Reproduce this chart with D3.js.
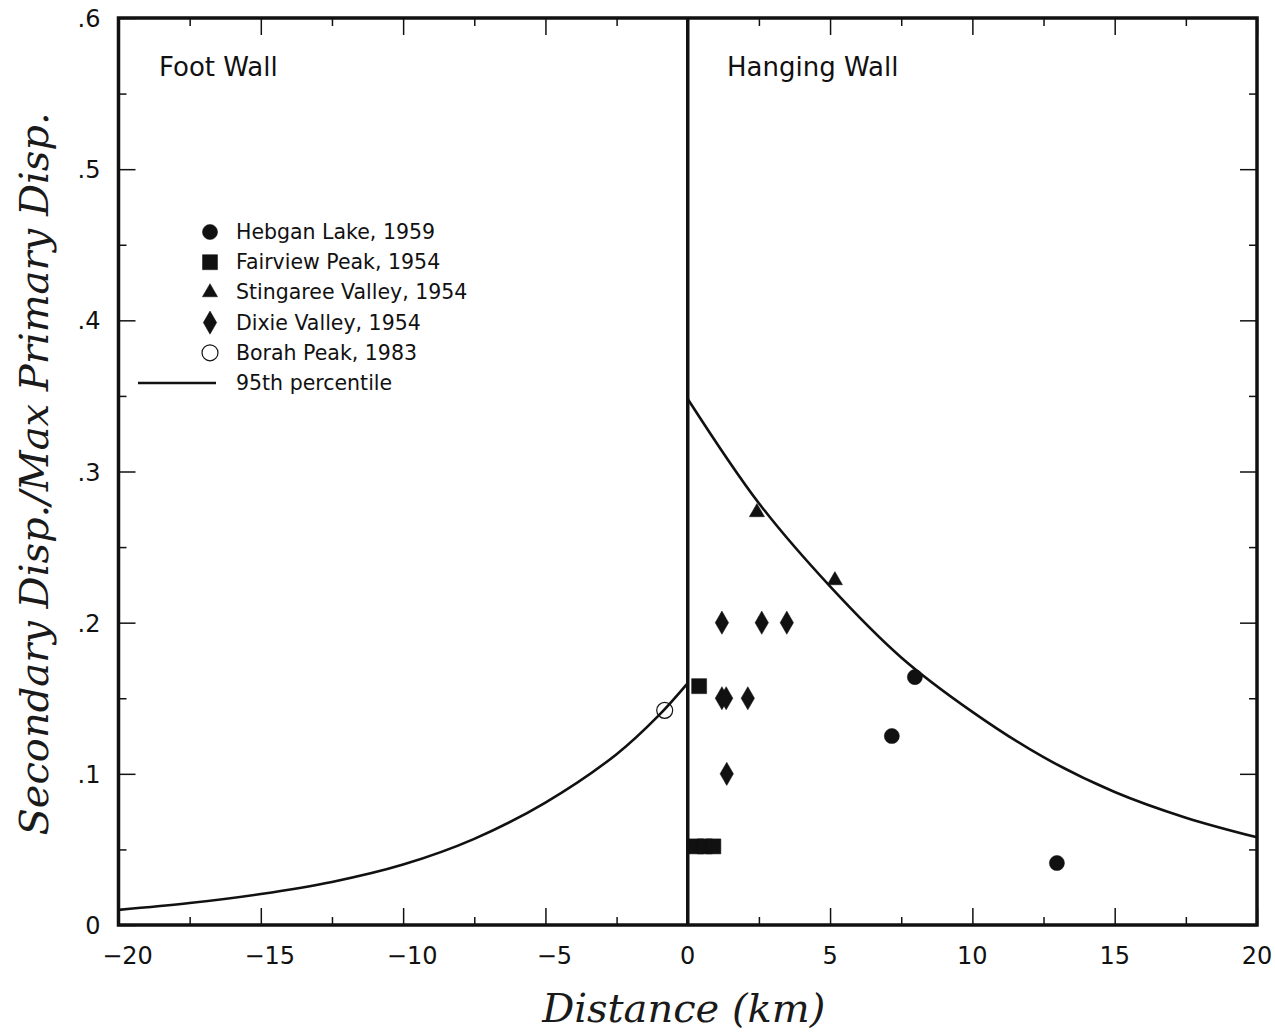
<!DOCTYPE html>
<html>
<head>
<meta charset="utf-8">
<script src="https://cdn.jsdelivr.net/npm/d3@7"></script>
<style>
  body { margin: 0; background: #fff; }
  text { fill: #111; }
  .tick-label { font-family: "DejaVu Sans", sans-serif; font-size: 24px; }
  .legend text { font-family: "DejaVu Sans", sans-serif; font-size: 20.5px; }
  .wall { font-family: "DejaVu Sans", sans-serif; font-size: 26px; }
  .title { font-family: "DejaVu Serif", serif; font-style: italic; font-size: 40px; fill: #1a1a1a; }
</style>
</head>
<body>
<script>
// data
var hebganX = [7.98, 7.17, 12.97];
var hebganY = [0.164, 0.125, 0.041];
var fairviewX = [0.4, 0.3, 0.6, 0.9];
var fairviewY = [0.158, 0.052, 0.052, 0.052];
var stingareeX = [2.43, 5.17];
var stingareeY = [0.273, 0.228];
var dixieX = [1.2, 2.6, 3.48, 1.2, 1.35, 2.11, 1.37];
var dixieY = [0.2, 0.2, 0.2, 0.15, 0.15, 0.15, 0.1];
var borahX = [-0.81];
var borahY = [0.142];

// 95th percentile curves
var footX = [-20, -17.5, -15, -12.5, -10, -7.5, -5, -2.5, -1, 0];
var footY = [0.010, 0.0145, 0.0205, 0.0285, 0.040, 0.057, 0.081, 0.113, 0.139, 0.160];
var hangX = [0, 2.5, 5, 7.5, 10, 12.5, 15, 17.5, 20];
var hangY = [0.348, 0.279, 0.224, 0.177, 0.141, 0.111, 0.088, 0.071, 0.058];

var xTicks = [-20, -15, -10, -5, 0, 5, 10, 15, 20];
var xMinor = [-17.5, -12.5, -7.5, -2.5, 2.5, 7.5, 12.5, 17.5];
var yTicks = [0, 0.1, 0.2, 0.3, 0.4, 0.5, 0.6];
var yTickLabels = ["0", ".1", ".2", ".3", ".4", ".5", ".6"];
var yMinor = [0.05, 0.15, 0.25, 0.35, 0.45, 0.55];

var legendNames = ["Hebgan Lake, 1959", "Fairview Peak, 1954", "Stingaree Valley, 1954",
                   "Dixie Valley, 1954", "Borah Peak, 1983", "95th percentile"];

var margin = {top: 18, right: 18, bottom: 107, left: 118.5},
    width = 1275 - margin.left - margin.right,
    height = 1032 - margin.top - margin.bottom;

var svg = d3.select("body").append("svg")
    .attr("width", 1275)
    .attr("height", 1032);

var g = svg.append("g")
    .attr("transform", "translate(" + margin.left + "," + margin.top + ")");

var x = d3.scaleLinear().domain([-20, 20]).range([0, width]);
var y = d3.scaleLinear().domain([0, 0.6]).range([height, 0]);

function zip(xs, ys) {
  return xs.map(function(v, i) { return [v, ys[i]]; });
}

// ticks, all pointing inward
var majorLen = 17, minorLen = 8;
g.append("g")
  .attr("transform", "translate(0," + height + ")")
  .call(d3.axisBottom(x).tickValues(xTicks).tickSize(-majorLen).tickFormat(""));
g.append("g")
  .attr("transform", "translate(0," + height + ")")
  .call(d3.axisBottom(x).tickValues(xMinor).tickSize(-minorLen).tickFormat(""));
g.append("g")
  .call(d3.axisTop(x).tickValues(xTicks).tickSize(-majorLen).tickFormat(""));
g.append("g")
  .call(d3.axisTop(x).tickValues(xMinor).tickSize(-minorLen).tickFormat(""));
g.append("g")
  .call(d3.axisLeft(y).tickValues(yTicks).tickSize(-majorLen).tickFormat(""));
g.append("g")
  .call(d3.axisLeft(y).tickValues(yMinor).tickSize(-minorLen).tickFormat(""));
g.append("g")
  .attr("transform", "translate(" + width + ",0)")
  .call(d3.axisRight(y).tickValues(yTicks).tickSize(-majorLen).tickFormat(""));
g.append("g")
  .attr("transform", "translate(" + width + ",0)")
  .call(d3.axisRight(y).tickValues(yMinor).tickSize(-minorLen).tickFormat(""));
g.selectAll(".domain").remove();
g.selectAll(".tick line").attr("stroke", "#111").attr("stroke-width", 1.5);

// tick labels
g.selectAll(".xlab")
  .data(xTicks)
  .enter().append("text")
  .attr("class", "tick-label")
  .attr("x", function(d) { return x(d) + (d < 0 ? 9 : 0); })
  .attr("y", height + 39)
  .attr("text-anchor", "middle")
  .text(function(d) { return d < 0 ? "\u2212" + Math.abs(d) : d; });

g.selectAll(".ylab")
  .data(yTicks)
  .enter().append("text")
  .attr("class", "tick-label")
  .attr("x", -18)
  .attr("y", function(d) { return y(d) + 9; })
  .attr("text-anchor", "end")
  .text(function(d, i) { return yTickLabels[i]; });

// frame and the fault line at zero
g.append("rect")
  .attr("width", width)
  .attr("height", height)
  .attr("fill", "none")
  .attr("stroke", "#111")
  .attr("stroke-width", 3.5);
g.append("line")
  .attr("x1", x(0)).attr("x2", x(0))
  .attr("y1", 0).attr("y2", height)
  .attr("stroke", "#111")
  .attr("stroke-width", 3.5);

// curves
var line = d3.line()
  .x(function(d) { return x(d[0]); })
  .y(function(d) { return y(d[1]); })
  .curve(d3.curveCatmullRom.alpha(0.5));

[zip(footX, footY), zip(hangX, hangY)].forEach(function(pts) {
  g.append("path")
    .attr("d", line(pts))
    .attr("fill", "none")
    .attr("stroke", "#111")
    .attr("stroke-width", 2.6);
});

// markers
var series = [
  {xs: hebganX, ys: hebganY, type: d3.symbolCircle, size: 180, fill: "#111"},
  {xs: fairviewX, ys: fairviewY, type: d3.symbolSquare, size: 225, fill: "#111"},
  {xs: stingareeX, ys: stingareeY, type: d3.symbolTriangle, size: 100, fill: "#111"},
  {xs: dixieX, ys: dixieY, type: d3.symbolDiamond, size: 155, fill: "#111"},
  {xs: borahX, ys: borahY, type: d3.symbolCircle, size: 200, fill: "none"}
];

series.forEach(function(s) {
  g.selectAll(null)
    .data(zip(s.xs, s.ys))
    .enter().append("path")
    .attr("d", d3.symbol().type(s.type).size(s.size))
    .attr("transform", function(d) { return "translate(" + x(d[0]) + "," + y(d[1]) + ")"; })
    .attr("fill", s.fill)
    .attr("stroke", "#111")
    .attr("stroke-width", s.fill === "none" ? 1.2 : 0.5);
});

// legend
var legend = svg.append("g").attr("class", "legend");
legendNames.forEach(function(name, i) {
  var ly = 232 + i * 30.2;
  if (i < series.length) {
    var s = series[i];
    legend.append("path")
      .attr("d", d3.symbol().type(s.type).size(s.size))
      .attr("transform", "translate(210," + ly + ")")
      .attr("fill", s.fill)
      .attr("stroke", "#111")
      .attr("stroke-width", s.fill === "none" ? 1.2 : 0.5);
  } else {
    legend.append("line")
      .attr("x1", 138).attr("x2", 216)
      .attr("y1", ly).attr("y2", ly)
      .attr("stroke", "#111")
      .attr("stroke-width", 2.5);
  }
  legend.append("text")
    .attr("x", 236)
    .attr("y", ly + 7)
    .text(name);
});

// region labels
svg.append("text").attr("class", "wall").attr("x", 159).attr("y", 76).text("Foot Wall");
svg.append("text").attr("class", "wall").attr("x", 727).attr("y", 76).text("Hanging Wall");

// axis titles
svg.append("text")
  .attr("class", "title")
  .attr("x", x(0) + margin.left - 4)
  .attr("y", 1022)
  .attr("text-anchor", "middle")
  .text("Distance (km)");

svg.append("text")
  .attr("class", "title")
  .attr("transform", "translate(48,474) rotate(-90)")
  .attr("text-anchor", "middle")
  .text("Secondary Disp./Max Primary Disp.");
</script>
</body>
</html>
